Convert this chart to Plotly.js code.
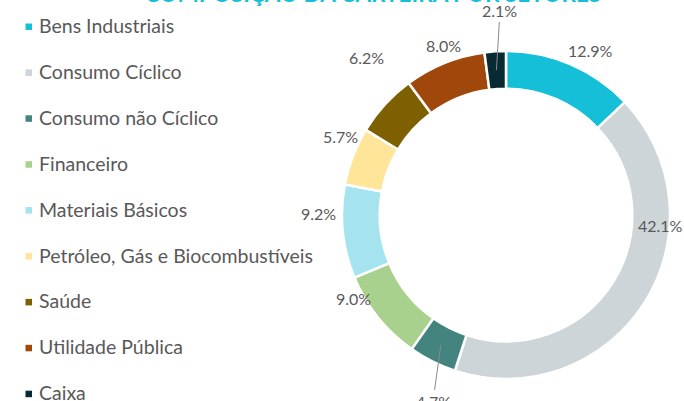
<!DOCTYPE html>
<html>
<head>
<meta charset="utf-8">
<script src="https://cdn.plot.ly/plotly-3.0.1.min.js"></script>
<style>html,body{margin:0;padding:0;background:#fff;}#chart{width:684px;height:401px;}</style>
</head>
<body>
<div id="chart"></div>
<script>
// ---- data ----
const sectors = ["Bens Industriais", "Consumo Cíclico", "Consumo não Cíclico", "Financeiro", "Materiais Básicos", "Petróleo, Gás e Biocombustíveis", "Saúde", "Utilidade Pública", "Caixa"];
const weights = [12.9, 42.1, 4.7, 9.0, 9.2, 5.7, 6.2, 8.0, 2.1];
const titleText = "COMPOSIÇÃO DA CARTEIRA POR SETORES";

// ---- styles / layout ----
const colors = ["#14BFD7", "#CDD5D8", "#44847F", "#A9D18E", "#A5E4EE", "#FEE59A", "#7F6000", "#A0480C", "#082A33"];
const W = 684, H = 401;
const cx = 506, cy = 215, R = 164, holeRatio = 0.77;
// label centers in pixels (layout positions)
const labelPos = [[590, 50], [660, 225], [433, 402], [353, 298], [318, 214], [340, 136], [366, 57], [443, 46], [500, 11]];
const withLeader = [false, false, true, false, false, false, false, false, true];
const textGray = "#595959";

const px = x => x / W;
const py = y => 1 - y / H;

const total = weights.reduce((a, b) => a + b, 0);
const annotations = [];
let cum = 0;
weights.forEach((v, i) => {
  const mid = (cum + v / 2) / total * 2 * Math.PI;
  cum += v;
  const txt = v.toFixed(1) + "%";
  if (withLeader[i]) {
    const rm = R * (1 + holeRatio) / 2;
    const tx = cx + rm * Math.sin(mid), ty = cy - rm * Math.cos(mid);
    annotations.push({
      x: px(tx), y: py(ty), xref: "paper", yref: "paper",
      ax: labelPos[i][0] - tx, ay: labelPos[i][1] - ty,
      text: txt, showarrow: true, arrowhead: 0, arrowwidth: 1, arrowcolor: "#8a8a8a",
      font: {family: "Lato", size: 16, color: textGray}
    });
  } else {
    annotations.push({
      x: px(labelPos[i][0]), y: py(labelPos[i][1]), xref: "paper", yref: "paper",
      xanchor: "center", yanchor: "middle", text: txt, showarrow: false,
      font: {family: "Lato", size: 16, color: textGray}
    });
  }
});

// custom legend
const shapes = [];
const legTop = 25.5, legStep = 45.9;
sectors.forEach((s, i) => {
  const y = legTop + i * legStep;
  annotations.push({
    x: px(37), y: py(y), xref: "paper", yref: "paper", xanchor: "left", yanchor: "middle",
    text: s, showarrow: false, font: {family: "Lato", size: 19.5, color: textGray}
  });
  shapes.push({
    type: "rect", xref: "paper", yref: "paper",
    x0: px(25.5), x1: px(32), y0: py(y - 2), y1: py(y + 4.5),
    fillcolor: colors[i], line: {width: 0}
  });
});

const trace = {
  type: "pie",
  labels: sectors,
  values: weights,
  sort: false,
  direction: "clockwise",
  rotation: 0,
  hole: holeRatio,
  textinfo: "none",
  marker: {colors: colors, line: {color: "#ffffff", width: 2.5}},
  domain: {x: [px(cx - R), px(cx + R)], y: [py(cy + R), py(cy - R)]},
  showlegend: false,
  automargin: false
};

const layout = {
  width: W, height: H,
  margin: {l: 0, r: 0, t: 0, b: 0},
  paper_bgcolor: "#ffffff",
  plot_bgcolor: "#ffffff",
  showlegend: false,
  title: {
    text: "<b>" + titleText + "</b>",
    font: {family: "Lato", size: 22.5, color: "#14BFD7"},
    x: px(373), xanchor: "center", xref: "container",
    y: 1 - 2 / H, yanchor: "bottom", yref: "container"
  },
  annotations: annotations,
  shapes: shapes
};

Plotly.newPlot("chart", [trace], layout, {displayModeBar: false, staticPlot: true});
</script>
</body>
</html>
